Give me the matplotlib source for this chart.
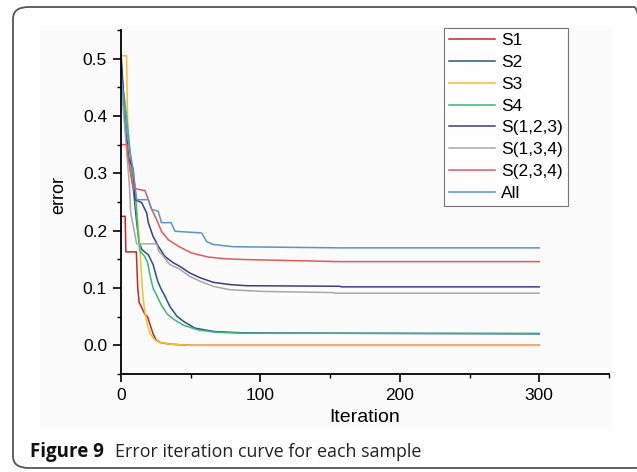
import matplotlib
matplotlib.use("Agg")
import matplotlib.pyplot as plt
from matplotlib.patches import FancyBboxPatch, Rectangle
from matplotlib.ticker import MultipleLocator

# curves: (iteration, error)
s1_x = [0, 3, 3.5, 11, 12, 13, 15, 17, 19, 21, 23, 25, 28, 35, 50, 300]
s1_y = [0.225, 0.225, 0.163, 0.163, 0.10, 0.075, 0.065, 0.055, 0.05, 0.035, 0.02, 0.01, 0.005, 0.002, 0.0, 0.0]

s2_x = [0, 1, 3, 5, 7, 9, 11, 13, 15, 19.6, 23, 26.3, 29, 31.5, 35, 40, 44.7, 53, 67, 89, 300]
s2_y = [0.50, 0.46, 0.40, 0.34, 0.30, 0.27, 0.22, 0.18, 0.167, 0.158, 0.141, 0.112, 0.097, 0.086, 0.068,
        0.051, 0.042, 0.030, 0.024, 0.0216, 0.020]

s3_x = [0, 4, 4.5, 5, 7, 9, 11, 13, 14, 15, 16, 17, 19, 21, 24, 28, 35, 50, 300]
s3_y = [0.505, 0.505, 0.42, 0.38, 0.31, 0.28, 0.24, 0.19, 0.15, 0.11, 0.08, 0.06, 0.035, 0.02, 0.01,
        0.005, 0.002, 0.0, 0.0]

s4_x = [0, 2, 4, 6, 8, 10, 11, 12, 13.5, 17, 19, 21, 23, 26, 29, 33, 38, 45, 55, 67, 89, 300]
s4_y = [0.46, 0.44, 0.40, 0.35, 0.30, 0.28, 0.24, 0.20, 0.165, 0.155, 0.145, 0.12, 0.10, 0.085, 0.07,
        0.055, 0.045, 0.035, 0.027, 0.023, 0.021, 0.021]

s123_x = [0, 1.5, 3, 5, 8.8, 10, 14.8, 18.4, 19.6, 23, 26.7, 31.5, 37.5, 42, 49.5, 56.6, 66, 78, 90, 157, 158, 300]
s123_y = [0.51, 0.45, 0.38, 0.33, 0.307, 0.254, 0.249, 0.231, 0.214, 0.19, 0.173, 0.155, 0.144, 0.138,
          0.126, 0.118, 0.110, 0.106, 0.104, 0.103, 0.102, 0.102]

s134_x = [0, 2, 4, 6, 7, 8.8, 11.2, 25.5, 27, 31.5, 35, 42, 49.5, 56.6, 66, 78, 102, 152, 153, 300]
s134_y = [0.46, 0.40, 0.34, 0.28, 0.23, 0.208, 0.177, 0.177, 0.165, 0.152, 0.141, 0.133, 0.12, 0.112,
          0.103, 0.097, 0.094, 0.092, 0.091, 0.091]

s234_x = [0, 4.3, 5, 7, 8.8, 12.4, 17.2, 19.6, 22, 25.6, 29, 34, 41, 50.7, 62.6, 74.5, 89, 157, 300]
s234_y = [0.35, 0.35, 0.33, 0.30, 0.275, 0.272, 0.27, 0.254, 0.237, 0.219, 0.199, 0.184, 0.173, 0.161,
          0.154, 0.151, 0.1496, 0.146, 0.146]

all_x = [0, 2, 3, 5, 7, 8.6, 11.2, 19.6, 22, 26.7, 29, 36, 38.7, 57.8, 60, 61.4, 66, 80.5, 157, 300]
all_y = [0.47, 0.43, 0.39, 0.36, 0.33, 0.307, 0.254, 0.254, 0.237, 0.234, 0.214, 0.214, 0.199, 0.196,
         0.187, 0.181, 0.176, 0.172, 0.170, 0.170]

labels = ["S1", "S2", "S3", "S4", "S(1,2,3)", "S(1,3,4)", "S(2,3,4)", "All"]
colors = ["#c0272d", "#2c4f8c", "#f2c12e", "#3cb878", "#3d3d85", "#a8a8a8", "#e05a5a", "#5f93c6"]
series = [(s1_x, s1_y), (s2_x, s2_y), (s3_x, s3_y), (s4_x, s4_y),
          (s123_x, s123_y), (s134_x, s134_y), (s234_x, s234_y), (all_x, all_y)]

plt.rcParams["font.family"] = ["Liberation Sans", "DejaVu Sans"]

W, H = 637, 472
fig = plt.figure(figsize=(W / 100, H / 100), dpi=100)

# outer rounded frame and faint image background
fig.patches.append(FancyBboxPatch((13 / W, 1 - 468 / H), (650 - 13) / W, (468 - 7) / H,
                                  boxstyle="round,pad=0,rounding_size=0.025", transform=fig.transFigure,
                                  fill=False, edgecolor="#555555", linewidth=1.3))
fig.patches.append(Rectangle((40 / W, 1 - 428 / H), (612 - 40) / W, (428 - 26) / H,
                             transform=fig.transFigure, facecolor="#fbfbfb", edgecolor="none", zorder=-1))

ax = fig.add_axes([121 / W, 98 / H, (609 - 121) / W, (374 - 30) / H])
ax.set_facecolor("none")

for (xs, ys), lab, c in zip(series, labels, colors):
    ax.plot(xs, ys, color=c, lw=1.1, label=lab)

ax.set_xlim(0, 350)
ax.set_ylim(-0.05, 0.55)
ax.xaxis.set_major_locator(MultipleLocator(100))
ax.xaxis.set_minor_locator(MultipleLocator(50))
ax.yaxis.set_major_locator(MultipleLocator(0.1))
ax.yaxis.set_minor_locator(MultipleLocator(0.05))
ax.set_yticks([0.0, 0.1, 0.2, 0.3, 0.4, 0.5])
ax.set_yticklabels(["0.0", "0.1", "0.2", "0.3", "0.4", "0.5"])
ax.set_xticks([0, 100, 200, 300])

for s in ["top", "right"]:
    ax.spines[s].set_visible(False)
for s in ["left", "bottom"]:
    ax.spines[s].set_linewidth(1.3)
ax.tick_params(which="major", direction="out", length=6, width=1.2, labelsize=12.5, pad=4)
ax.tick_params(which="minor", direction="out", length=3, width=1.0)

ax.set_xlabel("Iteration", fontsize=14)
ax.set_ylabel("error", fontsize=13)
ax.xaxis.set_label_coords(0.5, -44 / 344)
ax.xaxis.label.set_va("center")
ax.yaxis.set_label_coords(-62 / 488, 1 - (195 - 30) / 344)
ax.yaxis.label.set_va("center")

leg = ax.legend(loc="upper left", bbox_to_anchor=(444 / W, 1 - 28 / H), bbox_transform=fig.transFigure,
                fontsize=12.5, frameon=True, fancybox=False, handlelength=2.65, handletextpad=0.35,
                labelspacing=0.38, borderpad=0.3, borderaxespad=0)
leg.get_frame().set_edgecolor("#555555")
leg.get_frame().set_linewidth(0.8)

fig.text(30 / W, 1 - 452 / H, "Figure 9", fontsize=13.5, fontweight="bold",
         family=["Open Sans", "DejaVu Sans"], va="center", ha="left", color="#111111")
fig.text(115 / W, 1 - 452 / H, "Error iteration curve for each sample", fontsize=12.9,
         family=["Open Sans", "DejaVu Sans"], va="center", ha="left", color="#222222")

fig.savefig("out.png", dpi=100)
